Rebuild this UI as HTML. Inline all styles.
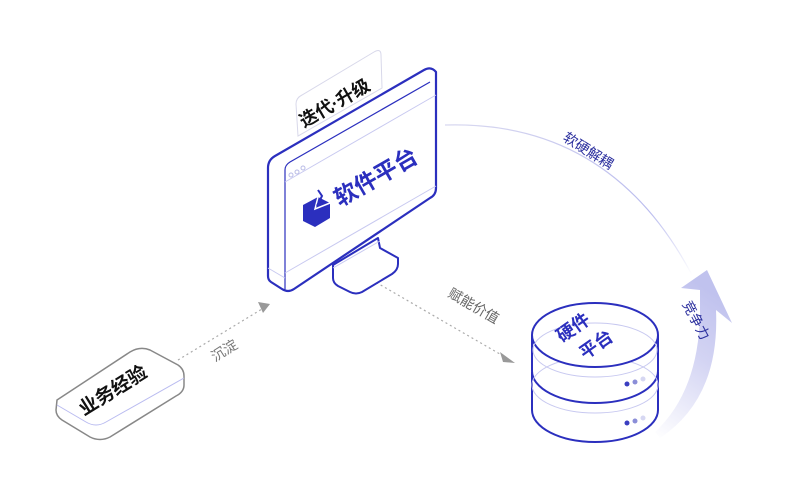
<!DOCTYPE html>
<html><head><meta charset="utf-8"><style>
body{margin:0;background:#fff}
svg{display:block}
text{font-family:"Liberation Sans","Noto Sans CJK SC",sans-serif}
</style></head><body>
<svg width="800" height="500" viewBox="0 0 800 500" xmlns="http://www.w3.org/2000/svg">
<defs>
<linearGradient id="ag" x1="0" y1="1" x2="0.3" y2="0">
<stop offset="0" stop-color="#c8c9f0" stop-opacity="0"/>
<stop offset="0.6" stop-color="#c8c9f0" stop-opacity="0.8"/>
<stop offset="1" stop-color="#c0c2ee"/>
</linearGradient>
<linearGradient id="arcg" x1="0" y1="0" x2="1" y2="1">
<stop offset="0" stop-color="#d8d8f0"/>
<stop offset="0.7" stop-color="#b9bbee"/>
<stop offset="1" stop-color="#b9bbee" stop-opacity="0"/>
</linearGradient>
</defs>

<!-- arc -->
<path d="M445,125 Q610,120 692,275" fill="none" stroke="url(#arcg)" stroke-width="1.2"/>
<text x="0" y="0" font-size="14" fill="#2b2f9e" transform="translate(562,140) rotate(32)">软硬解耦</text>

<!-- big arrow -->
<path d="M655,432 Q698,392 700,315 L700,290 L681,288 L707,270 L732,323 L716,310 Q720,398 660,438 Z" fill="url(#ag)"/>
<text font-size="14" fill="#2b2f9e" transform="translate(682,304) rotate(62)">竞争力</text>

<!-- dotted connectors -->
<path d="M178,360 L262,309" stroke="#aaa" stroke-width="1.2" stroke-dasharray="2,3" fill="none"/>
<path d="M258,302 L270,304 L263,313 Z" fill="#999"/>
<text font-size="14" fill="#777" transform="translate(215,362) rotate(-32)">沉淀</text>
<path d="M372,280 L505,357" stroke="#aaa" stroke-width="1.2" stroke-dasharray="2,3" fill="none"/>
<path d="M500,352 L515,363 L503,362 Z" fill="#999"/>
<text font-size="14" fill="#666" transform="translate(447,296) rotate(30)">赋能价值</text>

<!-- tag card -->
<path d="M296,104 Q296,98 302,95 L374,52 Q381,48 381,55 L382,88 L298,136 Z" fill="#fff" stroke="#d8d8ea" stroke-width="1"/>
<text font-size="18" font-weight="bold" fill="#111" transform="translate(304,128) rotate(-30)">迭代·升级</text>

<!-- monitor stand -->
<path d="M333,265 L333,278 Q333,283 338,286 L350,292 Q356,295 362,292 L392,274 Q398,270 398,264 L398,258 L380,248 L378,238 Z" fill="#fff" stroke="#2b2fbe" stroke-width="2" stroke-linejoin="round"/>
<path d="M333,268 L380,241" stroke="#c8c9f0" stroke-width="1"/>
<!-- monitor -->
<path d="M268,168 Q268,160 275,156 L424,70 Q431,66 436,72 L436,188 Q436,195 430,198 L294,289 Q288,293 282,289 L271,282 Q268,280 268,276 Z" fill="#fff" stroke="#2b2fbe" stroke-width="2.2" stroke-linejoin="round"/>
<path d="M285,290 L285,170 Q285,165 290,162 L430,82" fill="none" stroke="#2b2fbe" stroke-width="1.2"/>
<path d="M285,182 L436,95" stroke="#c8c9f0" stroke-width="1"/>
<path d="M285,273 L436,186" stroke="#c8c9f0" stroke-width="1"/>
<path d="M268,268 L285,278" stroke="#c8c9f0" stroke-width="1"/>
<circle cx="291" cy="175" r="2" fill="none" stroke="#b9bbe6"/>
<circle cx="297" cy="172" r="2" fill="none" stroke="#b9bbe6"/>
<circle cx="303" cy="168" r="2" fill="none" stroke="#b9bbe6"/>
<!-- icon -->
<path d="M303,205 L318,197 L330,203 L330,218 L315,227 L303,221 Z" fill="#2b2fbe"/>
<path d="M318,197 L315,209 L330,203" fill="none" stroke="#fff" stroke-width="1.5"/>
<path d="M318,190 L322,196 L317,206" fill="none" stroke="#2b2fbe" stroke-width="2"/>
<text font-size="23" font-weight="bold" fill="#2b2fbe" transform="translate(340,207) rotate(-30)">软件平台</text>

<!-- business block -->
<path d="M57,400 L130,352 Q140,346 150,350 L178,365 Q184,369 184,376 L184,385 Q184,392 176,396 L110,437 Q100,442 90,437 L62,420 Q56,416 56,410 Z" fill="#fff" stroke="#888" stroke-width="1.5"/>
<path d="M57,405 L86,422 Q96,428 106,422 L184,378" fill="none" stroke="#b9bbf0" stroke-width="1"/>
<text font-size="19" font-weight="bold" fill="#111" transform="translate(84,416) rotate(-32)">业务经验</text>

<!-- server -->
<path d="M532,372 L532,410 A63,32 0 0 0 658,410 L658,372" fill="#fff" stroke="#2b2fbe" stroke-width="2"/>
<path d="M532,335 L532,371 A63,32 0 0 0 658,371 L658,335" fill="#fff" stroke="#2b2fbe" stroke-width="2"/>
<ellipse cx="595" cy="385" rx="63" ry="28" fill="none" stroke="#c8c9f0"/>
<ellipse cx="595" cy="335" rx="63" ry="32" fill="#fff" stroke="#2b2fbe" stroke-width="2"/>
<ellipse cx="595" cy="350" rx="62" ry="27" fill="none" stroke="#c8c9f0"/>
<circle cx="627" cy="384" r="2.5" fill="#3a3ec0"/><circle cx="635" cy="382" r="2.5" fill="#8b8ed8"/><circle cx="643" cy="379" r="2.5" fill="#d6d7f2"/>
<circle cx="627" cy="423" r="2.5" fill="#3a3ec0"/><circle cx="635" cy="421" r="2.5" fill="#8b8ed8"/><circle cx="643" cy="418" r="2.5" fill="#d6d7f2"/>
<text font-size="18" font-weight="bold" fill="#2b2fbe" transform="translate(562,343) rotate(-35)">硬件</text>
<text font-size="18" font-weight="bold" fill="#2b2fbe" transform="translate(585,360) rotate(-35)">平台</text>
</svg>
</body></html>
